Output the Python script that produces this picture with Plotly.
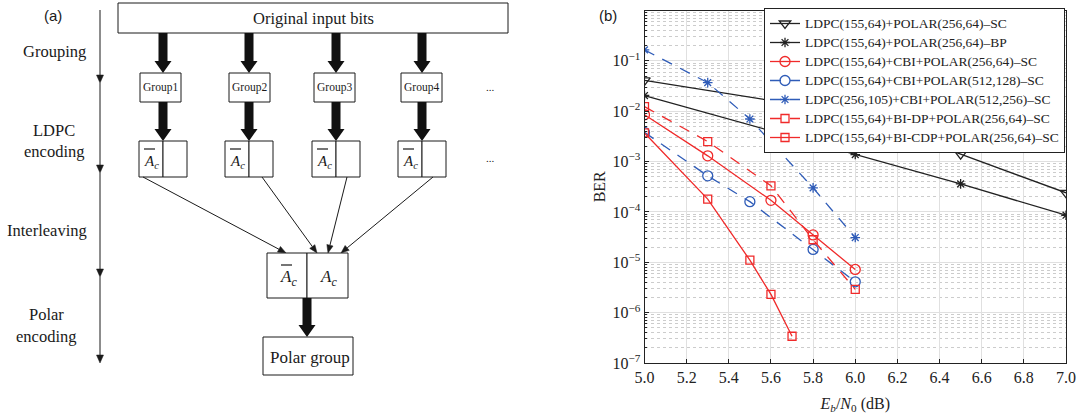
import math
import plotly.graph_objects as go

# ---------------- data (panel b) ----------------
names = [
    "LDPC(155,64)+POLAR(256,64)–SC",
    "LDPC(155,64)+POLAR(256,64)–BP",
    "LDPC(155,64)+CBI+POLAR(256,64)–SC",
    "LDPC(155,64)+CBI+POLAR(512,128)–SC",
    "LDPC(256,105)+CBI+POLAR(512,256)–SC",
    "LDPC(155,64)+BI-DP+POLAR(256,64)–SC",
    "LDPC(155,64)+BI-CDP+POLAR(256,64)–SC",
]
x_sc = [5.0, 6.0, 6.5, 7.0]
ber_sc = [0.041, 0.0088, 1.4e-3, 2.4e-4]
x_bp = [5.0, 5.7, 6.0, 6.5, 7.0]
ber_bp = [0.0205, 3.1e-3, 1.38e-3, 3.6e-4, 8.6e-5]
x_cbi = [5.0, 5.3, 5.6, 5.8, 6.0]
ber_cbi = [8.5e-3, 1.3e-3, 1.7e-4, 3.5e-5, 7.2e-6]
x_cbi512 = [5.0, 5.3, 5.5, 5.8, 6.0]
ber_cbi512 = [3.8e-3, 5.2e-4, 1.6e-4, 1.8e-5, 4.1e-6]
x_cbi256 = [5.0, 5.3, 5.5, 5.8, 6.0]
ber_cbi256 = [0.165, 0.037, 7.0e-3, 3.0e-4, 3.1e-5]
x_bidp = [5.0, 5.3, 5.6, 5.8, 6.0]
ber_bidp = [0.0123, 2.5e-3, 3.3e-4, 2.8e-5, 2.9e-6]
x_bicdp = [5.0, 5.3, 5.5, 5.6, 5.7]
ber_bicdp = [3.7e-3, 1.8e-4, 1.1e-5, 2.3e-6, 3.4e-7]

x_ticks = [5.0, 5.2, 5.4, 5.6, 5.8, 6.0, 6.2, 6.4, 6.6, 6.8, 7.0]
y_tick_exps = [0, -1, -2, -3, -4, -5, -6, -7]

# panel (a) labels
stage_labels = ["Grouping", "LDPC", "encoding", "Interleaving", "Polar", "encoding"]
group_labels = ["Group1", "Group2", "Group3", "Group4"]

BLACK = "#222222"
RED = "#f02a2a"
BLUE = "#2f5cb8"
DASH = "11px,9px"

series = [
    (x_sc, ber_sc, BLACK, "solid", "triangle-down-open", 10),
    (x_bp, ber_bp, BLACK, "solid", "asterisk-open", 8),
    (x_cbi, ber_cbi, RED, "solid", "circle-open", 10),
    (x_cbi512, ber_cbi512, BLUE, DASH, "circle-open", 10),
    (x_cbi256, ber_cbi256, BLUE, DASH, "asterisk-open", 8),
    (x_bidp, ber_bidp, RED, DASH, "square-open", 8),
    (x_bicdp, ber_bicdp, RED, "solid", "square-open", 8),
]

SERIF = "Liberation Serif"
LEG_TXT = 13.5

fig = go.Figure()
for name, (xs, ys, col, dash, sym, ms) in zip(names, series):
    fig.add_trace(go.Scatter(
        x=xs, y=ys, name=f'<span style="font-size:{LEG_TXT}px">{name}</span>',
        mode="lines+markers",
        line=dict(color=col, width=1.3, dash=dash),
        marker=dict(symbol=sym, size=ms, color=col, line=dict(color=col, width=1.3)),
    ))

W, H = 1085, 418
px0, px1 = 644.5, 1066.0     # window pixels of x = 5.0 / 7.0
py0, py1 = 10.5, 363.0       # window pixels of 1e0 / 1e-7

def fx(X):   # window x -> paper fraction
    return X / W

def fy(Y):   # window y -> paper fraction (from bottom)
    return (H - Y) / H

fig.update_layout(
    template="none",
    width=W, height=H,
    margin=dict(l=0, r=0, t=0, b=0, pad=0, autoexpand=False),
    paper_bgcolor="white", plot_bgcolor="white",
    font=dict(family=SERIF, size=15, color="#222"),
    showlegend=True,
    legend=dict(
        x=fx(1065), xanchor="right", y=fy(8), yanchor="top",
        bgcolor="white", bordercolor="#222", borderwidth=1,
        font=dict(family=SERIF, size=10.8, color="#222"),
        tracegroupgap=0, itemwidth=30,
    ),
    xaxis=dict(
        domain=[fx(px0), fx(px1)], range=[5.0, 7.0], automargin=False,
        tickvals=x_ticks, ticktext=[f"{v:.1f}" for v in x_ticks],
        showgrid=True, gridcolor="#e0e0e0", gridwidth=1,
        showline=True, linecolor="#222", linewidth=1, mirror=True,
        ticks="inside", ticklen=4, tickcolor="#222",
        zeroline=False,
        tickfont=dict(family=SERIF, size=16),
        title=dict(text="<i>E</i><sub><i>b</i></sub>/<i>N</i><sub>0</sub> (dB)",
                   font=dict(family=SERIF, size=16), standoff=12),
    ),
    yaxis=dict(
        domain=[fy(py1), fy(py0)], type="log", range=[-7, 0], automargin=False,
        tickvals=[10.0 ** e for e in y_tick_exps],
        ticktext=[f"10<sup>{'−' + str(-e) if e < 0 else str(e)}</sup>" for e in y_tick_exps],
        showgrid=True, gridcolor="#e0e0e0", gridwidth=1,
        minor=dict(dtick="D1", showgrid=True, gridcolor="#cccccc", griddash="dot",
                   ticks="inside", ticklen=2, tickcolor="#222"),
        showline=True, linecolor="#222", linewidth=1, mirror=True,
        ticks="inside", ticklen=4, tickcolor="#222",
        zeroline=False,
        tickfont=dict(family=SERIF, size=16),
        title=dict(text="BER", font=dict(family=SERIF, size=16), standoff=2),
    ),
    # diagram canvas (panel a) in window-pixel coordinates
    xaxis2=dict(domain=[0, 580 / W], range=[0, 580], visible=False, fixedrange=True,
                automargin=False, anchor="y2"),
    yaxis2=dict(domain=[0, 1], range=[H, 0], visible=False, fixedrange=True,
                automargin=False, anchor="x2"),
)

shapes = []
annos = []
INK = "#1a1a1a"

def line(x0, y0, x1, y1, w=1.0):
    shapes.append(dict(type="line", xref="x2", yref="y2", x0=x0, y0=y0, x1=x1, y1=y1,
                       line=dict(color=INK, width=w)))

def rect(x0, y0, x1, y1):
    shapes.append(dict(type="rect", xref="x2", yref="y2", x0=x0, y0=y0, x1=x1, y1=y1,
                       line=dict(color=INK, width=1), fillcolor="white"))

def text(x, y, t, size=16.5, fam=SERIF, xanchor="center"):
    annos.append(dict(xref="x2", yref="y2", x=x, y=y, text=t, showarrow=False,
                      font=dict(family=fam, size=size, color=INK), xanchor=xanchor, yanchor="middle"))

def thick_arrow(x, y0, y1, sw=4.5, hw=8.5, hl=12):
    p = (f"M {x-sw} {y0} L {x+sw} {y0} L {x+sw} {y1-hl} L {x+hw} {y1-hl} "
         f"L {x} {y1} L {x-hw} {y1-hl} L {x-sw} {y1-hl} Z")
    shapes.append(dict(type="path", xref="x2", yref="y2", path=p,
                       fillcolor="#111", line=dict(color="#111", width=0)))

def thin_arrow(x0, y0, x1, y1, hl=8, hw=3.2):
    dx, dy = x1 - x0, y1 - y0
    L = math.hypot(dx, dy)
    ux, uy = dx / L, dy / L
    bx, by = x1 - ux * hl, y1 - uy * hl
    line(x0, y0, bx, by, 1.0)
    px, py = -uy, ux
    p = (f"M {x1} {y1} L {bx + px*hw} {by + py*hw} L {bx - px*hw} {by - py*hw} Z")
    shapes.append(dict(type="path", xref="x2", yref="y2", path=p,
                       fillcolor=INK, line=dict(color=INK, width=0.5)))

def abar(x, y, bar=True, size=15):
    text(x, y, "<i>A</i><sub><i>c</i></sub>", size=size)
    if bar:
        line(x - 7, y - 13, x + 4, y - 13, 1.2)

# panel labels
text(53, 15, "(a)", size=15, fam="Liberation Sans")
annos.append(dict(xref="paper", yref="paper", x=fx(608), y=fy(16), text="(b)", showarrow=False,
                  font=dict(family="Liberation Sans", size=15, color=INK),
                  xanchor="center", yanchor="middle"))

# left process axis
stops = [10, 83, 173, 277, 363]
for a, b in zip(stops[:-1], stops[1:]):
    thin_arrow(100, a, 100, b, hl=8, hw=3.5)

stage_pos = [(54, 51), (54, 130), (54, 151), (47, 230), (46, 314), (46, 336)]
for lab, (sx_, sy_) in zip(stage_labels, stage_pos):
    text(sx_, sy_, lab)

# top box
rect(118, 3, 508, 33)
text(313, 18, "Original input bits")

group_cx = [160, 249, 334, 421]
split_x = [163, 249, 336, 422]
for lab, cx, sx in zip(group_labels, group_cx, split_x):
    thick_arrow(sx, 33, 73)
    rect(cx - 20, 73, cx + 21, 102)
    text(cx + 0.5, 87.5, lab, size=11.5)
    thick_arrow(sx, 102, 141)
    rect(sx - 24, 141, sx, 177)
    rect(sx, 141, sx + 24, 177)
    abar(sx - 12, 162, size=15)

text(490, 87, "...", size=11)
text(490, 158, "...", size=11)

# connections to interleaver
thin_arrow(143, 177, 286, 253)
thin_arrow(262, 177, 317, 253)
thin_arrow(347, 177, 328, 253)
thin_arrow(433, 177, 341, 253)

rect(267, 253, 307, 298)
rect(307, 253, 348, 298)
abar(288, 278, size=17)
abar(328, 278, bar=False, size=17)

thick_arrow(307, 298, 337)
rect(263, 337, 353, 375)
text(310, 357, "Polar group", size=17)

fig.update_layout(shapes=shapes, annotations=annos)
# remove the default 8px page margin so the figure fills the window exactly
fig.write_html("out.html", config={"displayModeBar": False},
               post_script="document.body.style.margin='0px';")
